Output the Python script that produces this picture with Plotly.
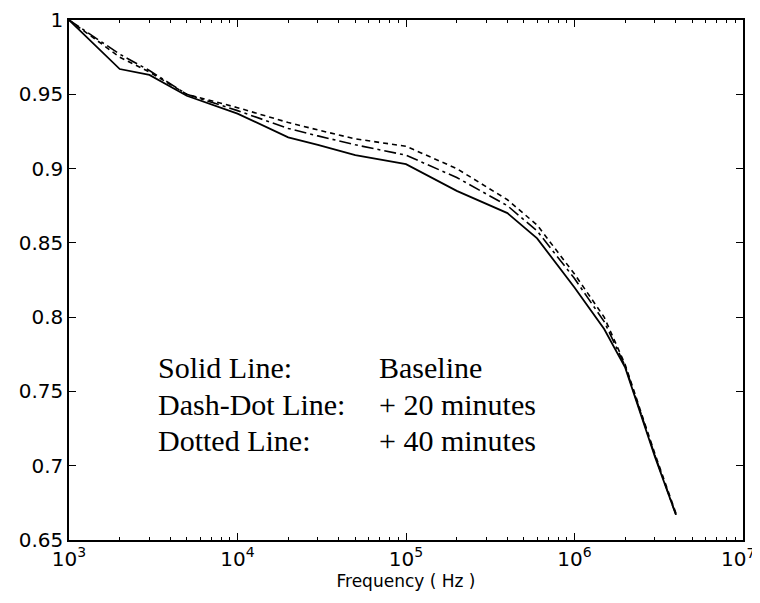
import plotly.graph_objects as go

freq_hz = [1e3, 2e3, 3e3, 5e3, 1e4, 2e4, 3e4, 5e4, 1e5, 2e5, 4e5, 6e5, 1e6, 1.5e6, 2e6, 3e6, 4e6]
baseline = [1.000, 0.967, 0.963, 0.949, 0.937, 0.921, 0.916, 0.909, 0.903, 0.885, 0.870, 0.853, 0.820, 0.792, 0.766, 0.706, 0.667]
plus_20_min = [1.000, 0.977, 0.966, 0.950, 0.939, 0.927, 0.922, 0.916, 0.909, 0.894, 0.875, 0.858, 0.826, 0.797, 0.767, 0.707, 0.667]
plus_40_min = [1.000, 0.975, 0.965, 0.950, 0.941, 0.931, 0.926, 0.920, 0.915, 0.900, 0.879, 0.862, 0.829, 0.800, 0.768, 0.708, 0.668]

x_ticks = [1e3, 1e4, 1e5, 1e6, 1e7]
x_tick_text = ["10<sup>3</sup>", "10<sup>4</sup>", "10<sup>5</sup>", "10<sup>6</sup>", "10<sup>7</sup>"]
y_ticks = [0.65, 0.7, 0.75, 0.8, 0.85, 0.9, 0.95, 1.0]
y_tick_text = ["0.65", "0.7", "0.75", "0.8", "0.85", "0.9", "0.95", "1"]

legend_labels = ["Solid Line:", "Dash-Dot Line:", "Dotted Line:"]
legend_values = ["Baseline", "+ 20 minutes", "+ 40 minutes"]

minor_x = [m * d for d in [1e3, 1e4, 1e5, 1e6] for m in range(2, 10)]

fig = go.Figure()
fig.add_trace(go.Scatter(x=freq_hz, y=baseline, mode="lines",
                         line=dict(color="black", width=1.8, dash="solid"), name="Baseline"))
fig.add_trace(go.Scatter(x=freq_hz, y=plus_20_min, mode="lines",
                         line=dict(color="black", width=1.6, dash="12px,4px,3px,4px"), name="+ 20 minutes"))
fig.add_trace(go.Scatter(x=freq_hz, y=plus_40_min, mode="lines",
                         line=dict(color="black", width=1.6, dash="5px,4px"), name="+ 40 minutes"))

label_y = [0.331, 0.2615, 0.192]
for lab, val, yy in zip(legend_labels, legend_values, label_y):
    fig.add_annotation(x=0.1306, y=yy, xref="paper", yref="paper", text=lab, showarrow=False,
                       xanchor="left", yanchor="middle", borderpad=0,
                       font=dict(family="Liberation Serif", size=30, color="black"))
    fig.add_annotation(x=0.458, y=yy, xref="paper", yref="paper", text=val, showarrow=False,
                       xanchor="left", yanchor="middle", borderpad=0,
                       font=dict(family="Liberation Serif", size=30, color="black"))

# last decade label sits at the very right edge of the page
fig.add_annotation(x=1.0 + 13 / 674, y=0, xref="paper", yref="paper", yshift=-4,
                   text=x_tick_text[-1], showarrow=False, xanchor="right", yanchor="top",
                   borderpad=0, font=dict(family="DejaVu Sans", size=20, color="black"))

fig.update_layout(
    width=752, height=595,
    margin=dict(l=61, r=17, t=12, b=63),
    paper_bgcolor="white", plot_bgcolor="white",
    showlegend=False,
    font=dict(family="DejaVu Sans", color="black"),
)
fig.update_xaxes(
    type="log", range=[3, 7], automargin=False,
    tickvals=x_ticks[:-1], ticktext=x_tick_text[:-1],
    tickfont=dict(family="DejaVu Sans", size=20, color="black"),
    ticks="inside", ticklen=7, tickcolor="black", tickwidth=1.2,
    showline=True, linecolor="black", linewidth=1.5, mirror="ticks",
    showgrid=False, zeroline=False,
    minor=dict(tickvals=minor_x, ticks="inside", ticklen=3, tickcolor="black", showgrid=False),
    title=dict(text="Frequency ( Hz )", font=dict(family="DejaVu Sans", size=17, color="black"), standoff=3),
)
fig.update_yaxes(
    range=[0.65, 1.0], automargin=False,
    tickvals=y_ticks, ticktext=y_tick_text,
    tickfont=dict(family="DejaVu Sans", size=20, color="black"),
    ticks="inside", ticklen=7, tickcolor="black", tickwidth=1.2,
    showline=True, linecolor="black", linewidth=1.5, mirror="ticks",
    showgrid=False, zeroline=False,
)

fig.write_html("out.html")
